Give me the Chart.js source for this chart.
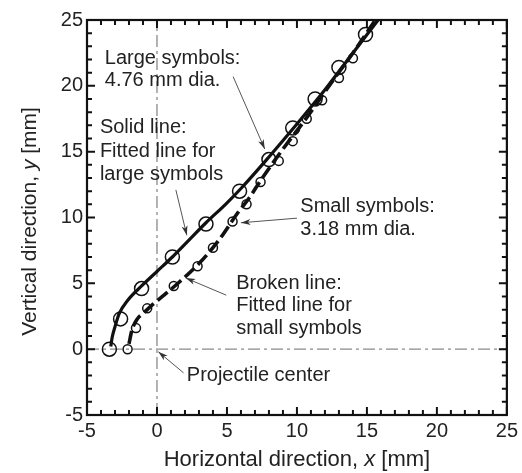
<!DOCTYPE html>
<html>
<head>
<meta charset="utf-8">
<script src="https://cdn.jsdelivr.net/npm/chart.js@4.4.1/dist/chart.umd.min.js"></script>
<style>
    body { margin: 0; background: #fff; }
    canvas { display: block; }
</style>
</head>
<body>
<canvas id="trajChart" width="522" height="473"></canvas>
<script>
const largeX = [-3.4, -2.6, -1.1, 1.1, 3.5, 5.9, 8.0, 9.7, 11.3, 13.0, 14.9];
const largeY = [0.0, 2.3, 4.6, 7.0, 9.5, 12.0, 14.4, 16.8, 19.0, 21.4, 23.9];

const smallX = [-2.1, -1.5, -0.7, 1.2, 2.9, 4.0, 5.4, 6.4, 7.4, 8.7, 9.7, 10.7, 11.8, 13.0, 14.0];
const smallY = [0.0, 1.6, 3.1, 4.8, 6.3, 7.7, 9.7, 11.0, 12.7, 14.3, 15.8, 17.5, 18.9, 20.6, 22.1];

// Fitted lines
const solidX = [-3.3, -3.2, -3.0, -2.7, -2.1, -1.1, 0.0, 1.1, 2.3, 3.5, 4.9, 6.0, 8.0, 10.0, 12.0, 14.0, 15.8];
const solidY = [0.2, 0.9, 1.7, 2.7, 3.7, 4.8, 5.9, 7.0, 8.3, 9.6, 11.0, 12.2, 14.6, 17.1, 19.7, 22.5, 25.0];

const brokenX = [-2.0, -1.8, -1.4, -0.9, -0.3, 0.5, 1.6, 3.0, 4.4, 5.8, 6.6, 7.4, 9.0, 10.5, 12.5, 14.0, 15.6];
const brokenY = [0.4, 1.4, 2.3, 2.8, 3.4, 4.1, 5.1, 6.5, 8.25, 10.4, 11.5, 12.8, 15.2, 17.3, 20.3, 22.5, 25.0];

// Axis ranges
const xRange = [-5, 25];
const yRange = [-5, 25];

// Axis titles: [text, italic?] pieces
const xTitle = [["Horizontal direction, ", false], ["x", true], [" [mm]", false]];
const yTitle = [["Vertical direction, ", false], ["y", true], [" [mm]", false]];

// Text notes (data coords of the left/middle of each line)
const notes = [
    { text: "Large symbols:", x: -3.73, y: 22.1 },
    { text: "4.76 mm dia.", x: -3.73, y: 20.4 },
    { text: "Solid line:", x: -4.08, y: 16.8 },
    { text: "Fitted line for", x: -4.08, y: 15.05 },
    { text: "large symbols", x: -4.08, y: 13.3 },
    { text: "Small symbols:", x: 10.24, y: 10.8 },
    { text: "3.18 mm dia.", x: 10.24, y: 9.1 },
    { text: "Broken line:", x: 5.66, y: 5.0 },
    { text: "Fitted line for", x: 5.66, y: 3.3 },
    { text: "small symbols", x: 5.66, y: 1.6 },
    { text: "Projectile center", x: 2.13, y: -2.0 }
];

// Arrows: from -> to (data coords)
const arrows = [
    { x0: 5.44, y0: 20.7, x1: 7.7, y1: 15.2 },
    { x0: 1.35, y0: 12.1, x1: 2.13, y1: 8.65 },
    { x0: 10.0, y0: 9.95, x1: 6.0, y1: 9.6 },
    { x0: 4.95, y0: 4.1, x1: 2.06, y1: 5.4 },
    { x0: 1.9, y0: -1.8, x1: 0.1, y1: -0.2 }
];

const FONT = "'Liberation Sans', Arial, sans-serif";

function toPoints(xs, ys) {
    return xs.map((x, i) => ({ x: x, y: ys[i] }))
}

/**
 * Draws a title made of pieces, some in italic, centered on (0,0)
 */
function drawPieces(ctx, pieces, size) {
    let total = 0
    const widths = pieces.map(p => {
        ctx.font = (p[1] ? 'italic ' : '') + size + 'px ' + FONT
        const w = ctx.measureText(p[0]).width
        total += w
        return w
    })
    let cx = -total / 2
    pieces.forEach((p, i) => {
        ctx.font = (p[1] ? 'italic ' : '') + size + 'px ' + FONT
        ctx.fillText(p[0], cx, 0)
        cx += widths[i]
    })
}

/**
 * Draws the dash-dot reference lines, the box frame with inward ticks,
 * the notes, the arrows and the axis titles
 */
const decorPlugin = {
    id: 'decor',
    beforeDatasetsDraw(chart) {
        const { ctx, chartArea: a, scales } = chart;
        const x0 = scales.x.getPixelForValue(0);
        const y0 = scales.y.getPixelForValue(0);
        ctx.save();
        ctx.strokeStyle = '#8a8a8a';
        ctx.lineWidth = 1.3;
        ctx.setLineDash([12, 4, 3, 4]);
        ctx.beginPath();
        ctx.moveTo(a.left, y0);
        ctx.lineTo(a.right, y0);
        ctx.moveTo(x0, a.bottom);
        ctx.lineTo(x0, a.top);
        ctx.stroke();
        ctx.restore();
    },
    afterDatasetsDraw(chart) {
        const { ctx, chartArea: a, scales } = chart;
        const sx = scales.x, sy = scales.y;
        ctx.save();

        // frame
        ctx.strokeStyle = '#111';
        ctx.lineWidth = 2.2;
        ctx.strokeRect(a.left, a.top, a.right - a.left, a.bottom - a.top);

        // inward ticks on all four sides
        ctx.lineWidth = 2;
        ctx.beginPath();
        for (let v = xRange[0]; v <= xRange[1]; v++) {
            const px = sx.getPixelForValue(v);
            const len = v % 5 === 0 ? 8 : 5;
            ctx.moveTo(px, a.bottom);
            ctx.lineTo(px, a.bottom - len);
            ctx.moveTo(px, a.top);
            ctx.lineTo(px, a.top + len);
        }
        for (let v = yRange[0]; v <= yRange[1]; v++) {
            const py = sy.getPixelForValue(v);
            const len = v % 5 === 0 ? 8 : 5;
            ctx.moveTo(a.left, py);
            ctx.lineTo(a.left + len, py);
            ctx.moveTo(a.right, py);
            ctx.lineTo(a.right - len, py);
        }
        ctx.stroke();

        // notes
        ctx.fillStyle = '#222';
        ctx.font = '20px ' + FONT;
        ctx.textAlign = 'left';
        ctx.textBaseline = 'middle';
        notes.forEach(n => {
            ctx.fillText(n.text, sx.getPixelForValue(n.x), sy.getPixelForValue(n.y));
        })

        // arrows
        ctx.strokeStyle = '#555';
        ctx.fillStyle = '#333';
        ctx.lineWidth = 1;
        arrows.forEach(ar => {
            const ax = sx.getPixelForValue(ar.x0), ay = sy.getPixelForValue(ar.y0);
            const bx = sx.getPixelForValue(ar.x1), by = sy.getPixelForValue(ar.y1);
            const ang = Math.atan2(by - ay, bx - ax);
            ctx.beginPath();
            ctx.moveTo(ax, ay);
            ctx.lineTo(bx, by);
            ctx.stroke();
            ctx.beginPath();
            ctx.moveTo(bx, by);
            ctx.lineTo(bx - 10 * Math.cos(ang - 0.3), by - 10 * Math.sin(ang - 0.3));
            ctx.lineTo(bx - 7 * Math.cos(ang), by - 7 * Math.sin(ang));
            ctx.lineTo(bx - 10 * Math.cos(ang + 0.3), by - 10 * Math.sin(ang + 0.3));
            ctx.closePath();
            ctx.fill();
        })

        // axis titles with italic variable names
        ctx.fillStyle = '#222';
        ctx.textAlign = 'left';
        ctx.textBaseline = 'middle';
        ctx.save();
        ctx.translate((a.left + a.right) / 2, chart.height - 13);
        drawPieces(ctx, xTitle, 22);
        ctx.restore();
        ctx.save();
        ctx.translate(30, (a.top + a.bottom) / 2 + 4);
        ctx.rotate(-Math.PI / 2);
        drawPieces(ctx, yTitle, 21);
        ctx.restore();

        ctx.restore();
    }
};

const canvas = document.getElementById('trajChart');

new Chart(canvas.getContext('2d'), {
    type: 'scatter',
    data: {
        datasets: [
            {
                label: 'Solid line',
                data: toPoints(solidX, solidY),
                showLine: true,
                borderColor: '#111',
                borderWidth: 3.2,
                pointRadius: 0,
                cubicInterpolationMode: 'monotone'
            },
            {
                label: 'Broken line',
                data: toPoints(brokenX, brokenY),
                showLine: true,
                borderColor: '#111',
                borderWidth: 3.6,
                borderDash: [13, 5],
                pointRadius: 0,
                cubicInterpolationMode: 'monotone'
            },
            {
                label: 'Large symbols',
                data: toPoints(largeX, largeY),
                pointRadius: 7,
                pointBorderWidth: 1.5,
                pointBorderColor: '#111',
                pointBackgroundColor: 'rgba(0,0,0,0)'
            },
            {
                label: 'Small symbols',
                data: toPoints(smallX, smallY),
                pointRadius: 4.5,
                pointBorderWidth: 1.5,
                pointBorderColor: '#111',
                pointBackgroundColor: 'rgba(0,0,0,0)'
            }
        ]
    },
    options: {
        responsive: false,
        animation: false,
        layout: { padding: { top: 20, right: 10, left: 0, bottom: 0 } },
        plugins: {
            legend: { display: false },
            tooltip: { enabled: false }
        },
        scales: {
            x: {
                type: 'linear',
                min: xRange[0],
                max: xRange[1],
                afterFit: scale => { scale.height = 58 },
                grid: { display: false, drawTicks: false },
                border: { display: false },
                ticks: {
                    stepSize: 5,
                    padding: 4,
                    color: '#222',
                    font: { family: FONT, size: 20 },
                    maxRotation: 0
                },
                title: { display: false }
            },
            y: {
                type: 'linear',
                min: yRange[0],
                max: yRange[1],
                afterFit: scale => { scale.width = 87 },
                grid: { display: false, drawTicks: false },
                border: { display: false },
                ticks: {
                    stepSize: 5,
                    padding: 4,
                    color: '#222',
                    font: { family: FONT, size: 20 }
                },
                title: { display: false }
            }
        }
    },
    plugins: [decorPlugin]
});
</script>
</body>
</html>
